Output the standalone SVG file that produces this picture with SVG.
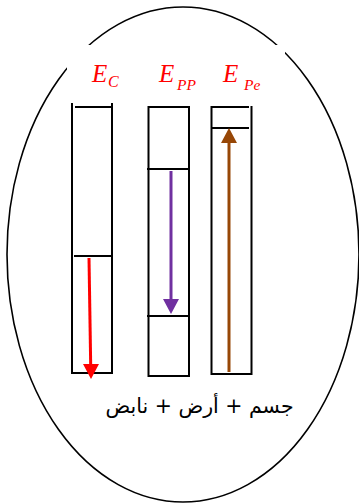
<svg xmlns="http://www.w3.org/2000/svg" width="359" height="503" viewBox="0 0 359 503">
<style>
.bar{fill:none;stroke:#000;stroke-width:2}
.ln{stroke:#000;stroke-width:2}
.lbl{font-family:"Liberation Serif",serif;font-style:italic;fill:#FF0000}
.ar{font-family:"DejaVu Sans",sans-serif;font-size:20.5px;fill:#000}
</style>
<rect width="359" height="503" fill="#fff"/>
<ellipse cx="183" cy="254.5" rx="176" ry="247.5" fill="none" stroke="#000" stroke-width="1.6"/>
<rect x="67" y="45" width="218" height="45" fill="#fff"/>
<g id="label-ec"><text class="lbl" x="92" y="82" font-size="25">E</text><text class="lbl" x="108" y="87" font-size="16">C</text></g>
<g id="label-epp"><text class="lbl" x="159" y="82" font-size="25">E</text><text class="lbl" x="177" y="90" font-size="15.5">PP</text></g>
<g id="label-epe"><text class="lbl" x="223" y="82" font-size="25">E</text><text class="lbl" x="244" y="90" font-size="15.5">Pe</text></g>
<g id="bar-ec">
<polyline class="bar" points="72,103 72,373 112,373 112,103"/>
<line class="ln" x1="75" y1="107" x2="113" y2="107"/>
<line class="ln" x1="74" y1="256" x2="111" y2="256"/>
</g>
<g id="bar-epp">
<rect class="bar" x="148.5" y="107" width="40.5" height="269"/>
<line class="ln" x1="147" y1="169" x2="188" y2="169"/>
<line class="ln" x1="147" y1="316" x2="188" y2="316"/>
</g>
<g id="bar-epe">
<polyline class="bar" points="211.5,106 211.5,374 251.5,374 251.5,106"/>
<line class="ln" x1="211" y1="107" x2="249" y2="107"/>
<line class="ln" x1="211" y1="128" x2="249" y2="128"/>
</g>
<g id="connectors">
<line x1="89" y1="258" x2="90.7" y2="366" stroke="#FF0000" stroke-width="3"/>
<polygon points="83,364 99,364 91,379" fill="#FF0000"/>
<line x1="171" y1="171" x2="171" y2="301" stroke="#7030A0" stroke-width="3"/>
<polygon points="163,299 179,299 171,314" fill="#7030A0"/>
<line x1="229" y1="372" x2="229" y2="141" stroke="#974706" stroke-width="3"/>
<polygon points="221,143 237,143 229,128" fill="#974706"/>
</g>
<text class="ar" x="199.5" y="413" text-anchor="middle">جسم + أرض + نابض</text>
</svg>
